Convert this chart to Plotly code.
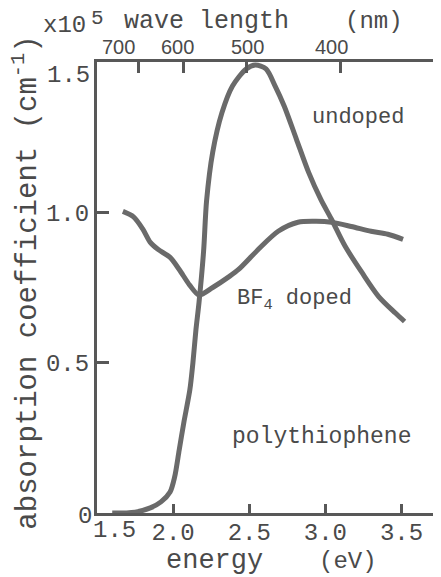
import plotly.graph_objects as go

# ---- data ----
undoped_energy = [1.60, 1.75, 1.85, 1.92, 1.98, 2.01, 2.04, 2.07, 2.11, 2.13, 2.15, 2.17, 2.20, 2.22,
                  2.26, 2.32, 2.39, 2.48, 2.54, 2.61, 2.67, 2.73, 2.81, 2.89, 2.97, 3.04, 3.13,
                  3.24, 3.35, 3.46, 3.52]
undoped_alpha = [0.0, 0.003, 0.017, 0.037, 0.07, 0.12, 0.21, 0.30, 0.41, 0.50, 0.61, 0.70, 0.87, 1.04,
                 1.20, 1.33, 1.42, 1.477, 1.49, 1.477, 1.42, 1.353, 1.243, 1.133, 1.043, 0.977, 0.887,
                 0.80, 0.72, 0.665, 0.637]

doped_energy = [1.67, 1.74, 1.80, 1.85, 1.90, 1.98, 2.04, 2.11, 2.17, 2.26, 2.37, 2.43, 2.56, 2.69,
                2.82, 2.94, 3.04, 3.17, 3.30, 3.41, 3.51]
doped_alpha = [1.003, 0.985, 0.945, 0.90, 0.877, 0.85, 0.81, 0.757, 0.725, 0.75, 0.787, 0.81, 0.877,
               0.937, 0.967, 0.97, 0.967, 0.953, 0.937, 0.927, 0.91]

energy_ticks = [2.0, 2.5, 3.0, 3.5]
energy_ticklabels = ["2.0", "2.5", "3.0", "3.5"]
alpha_ticks = [0.5, 1.0]
alpha_ticklabels = ["0.5", "1.0"]
wavelength_nm = [700, 600, 500, 400]
wavelength_labels = ["700", "600", "500", "400"]
wavelength_label_shift = [-20, -6, 1, -9]

# ---- layout geometry (screen pixels; page body adds an 8px offset) ----
OFF = 8
W, H = 441, 577
L, R, T, B = 97 - OFF, 438 - OFF, 62 - OFF, 513 - OFF
X_RANGE = [1.5, 3.72]
Y_RANGE = [0, 1.5]

LINE_C = "#6a6a6a"
AX_C = "#585858"
TXT_C = "#4a4a4a"
MONO = "Liberation Mono, Courier New, monospace"
SANS = "Liberation Sans, Arial, sans-serif"


def px(x):
    return (x - OFF - L) / (R - L)


def py(y):
    return (B - (y - OFF)) / (B - T)


fig = go.Figure()
fig.add_trace(go.Scatter(x=undoped_energy, y=undoped_alpha, mode="lines",
                         line=dict(color=LINE_C, width=5, shape="spline", smoothing=0.8),
                         showlegend=False, hoverinfo="skip"))
fig.add_trace(go.Scatter(x=doped_energy, y=doped_alpha, mode="lines",
                         line=dict(color=LINE_C, width=5, shape="spline", smoothing=0.8),
                         showlegend=False, hoverinfo="skip"))
# invisible trace to activate top axis
fig.add_trace(go.Scatter(x=[1240 / w for w in wavelength_nm], y=[None] * 4, xaxis="x2",
                         mode="lines", showlegend=False, hoverinfo="skip"))

fig.update_layout(
    width=W, height=H,
    margin=dict(l=L, r=W - R, t=T, b=H - B),
    paper_bgcolor="white", plot_bgcolor="white",
    xaxis=dict(range=X_RANGE, tickvals=energy_ticks, ticktext=energy_ticklabels,
               ticks="inside", ticklen=9, tickwidth=2.5, tickcolor=AX_C,
               showline=True, linecolor=AX_C, linewidth=3, mirror=False,
               showgrid=False, zeroline=False, ticklabelstandoff=-5,
               tickfont=dict(family=MONO, size=24, color=TXT_C)),
    xaxis2=dict(range=X_RANGE, overlaying="x", side="top",
                tickvals=[1240 / w for w in wavelength_nm], showticklabels=False,
                ticks="inside", ticklen=11, tickwidth=2.5, tickcolor=AX_C,
                showline=True, linecolor=AX_C, linewidth=3,
                showgrid=False, zeroline=False),
    yaxis=dict(range=Y_RANGE, tickvals=alpha_ticks, ticktext=alpha_ticklabels,
               ticks="inside", ticklen=12, tickwidth=2.5, tickcolor=AX_C,
               showline=True, linecolor=AX_C, linewidth=3, mirror=True,
               showgrid=False, zeroline=False,
               tickfont=dict(family=MONO, size=24, color=TXT_C)),
)

ann = []


def add(text, x, y, size, xanchor="center", yanchor="middle", angle=0, family=MONO):
    ann.append(dict(text=text, x=px(x), y=py(y), xref="paper", yref="paper",
                    xanchor=xanchor, yanchor=yanchor, textangle=angle, showarrow=False,
                    font=dict(family=family, size=size, color=TXT_C)))


# wavelength tick labels on the top axis
for w, lab, sh in zip(wavelength_nm, wavelength_labels, wavelength_label_shift):
    ann.append(dict(text=lab, x=1240 / w, xref="x2", y=py(47), yref="paper",
                    xshift=sh, xanchor="center", yanchor="middle", showarrow=False,
                    font=dict(family=SANS, size=20, color=TXT_C)))

# extra tick labels
add("1.5", 115, 530, 24)
add("0", 85, 517, 24)
add("1.5", 92, 75, 24, xanchor="right")
# top title
add("x10", 40, 25, 24, xanchor="left")
add("5", 89, 19, 21, xanchor="left")
add("wave length", 207, 21, 25)
add("(nm)", 376, 21, 24)
# bottom title
add("energy", 216, 561, 27)
add("(eV)", 350, 561, 24)
# y title
add("absorption coefficient (cm<sup>-1</sup>)", 25, 283, 29, angle=-90)
# in-plot labels
add("undoped", 360, 117, 22)
add("BF<sub>4</sub> doped", 296, 300, 22)
add("polythiophene", 323, 437, 23)

fig.update_layout(annotations=ann)
fig.write_html("out.html")
